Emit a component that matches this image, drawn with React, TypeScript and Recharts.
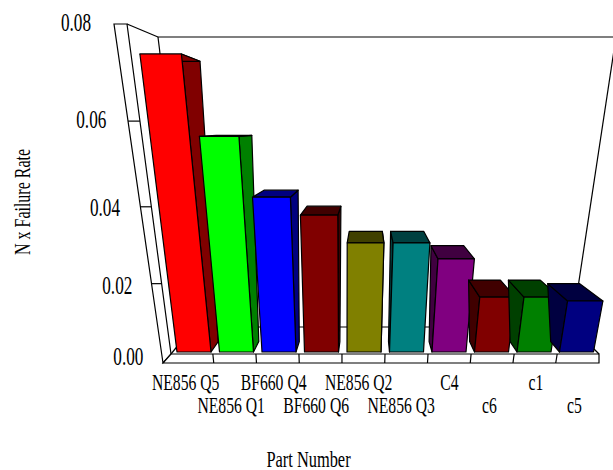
import React from 'react';
import { BarChart, Bar, XAxis, YAxis } from 'recharts';

const partNumbers = ['NE856 Q5', 'NE856 Q1', 'BF660 Q4', 'BF660 Q6', 'NE856 Q2', 'NE856 Q3', 'C4', 'c6', 'c1', 'c5'];
const failureRates = [0.074, 0.0564, 0.0421, 0.0377, 0.0306, 0.0306, 0.0264, 0.016, 0.016, 0.0149];
const frontColors = ['#ff0000', '#00ff00', '#0000ff', '#800000', '#808000', '#008080', '#800080', '#800000', '#008000', '#000080'];
const shadeColors = ['#800000', '#008000', '#000080', '#400000', '#404000', '#004040', '#400040', '#400000', '#004000', '#000040'];
const yTicks = [0, 0.02, 0.04, 0.06, 0.08];

const data = partNumbers.map((name, i) => ({ name, rate: failureRates[i] }));

const WIDTH = 613;
const HEIGHT = 470;
const PLOT_LEFT = 173;
const PLOT_RIGHT = 598;
const PLOT_TOP = 24;
const PLOT_BOTTOM = 352;
const AXIS_SIZE = 40;

// the picture is a perspective view: heights lean toward a point far below the page,
// depth runs toward a point in the middle of the back wall
const RISE_X = 345;
const RISE_Y = 1700;
const RISE_K = 0.1957;
const DEPTH_X = 368;
const DEPTH_Y = 127;

type Pt = [number, number];

// plot coordinates -> picture coordinates
const project = (px: number, py: number): Pt => {
  const h = (PLOT_BOTTOM - py) / (PLOT_BOTTOM - PLOT_TOP);
  const s = 1 / (1 - RISE_K * h);
  return [RISE_X + (px - RISE_X) * s, RISE_Y - (RISE_Y - PLOT_BOTTOM) * s];
};

const toBack = (p: Pt, f: number): Pt => [p[0] + (DEPTH_X - p[0]) * f, p[1] + (DEPTH_Y - p[1]) * f];

const pts = (list: Pt[]) => list.map((p) => `${p[0].toFixed(1)},${p[1].toFixed(1)}`).join(' ');

const Box = (props: any) => {
  const { x, y, width, height, index } = props;
  const bl = project(x, y + height);
  const br = project(x + width, y + height);
  const tl = project(x, y);
  const tr = project(x + width, y);
  const bbl = toBack(bl, 0.046);
  const bbr = toBack(br, 0.046);
  const btl = toBack(tl, 0.1);
  const btr = toBack(tr, 0.1);
  const rightSide = x + width / 2 < DEPTH_X;
  const side = rightSide ? [br, tr, btr, bbr] : [bl, tl, btl, bbl];
  return (
    <g stroke="#000" strokeWidth={1.2} strokeLinejoin="round">
      <polygon points={pts(side)} fill={shadeColors[index]} />
      <polygon points={pts([tl, tr, btr, btl])} fill={shadeColors[index]} />
      <polygon points={pts([bl, br, tr, tl])} fill={frontColors[index]} />
    </g>
  );
};

const stretched = (x: number, y: number, rotate = 0) =>
  `translate(${x},${y}) rotate(${rotate}) scale(1,1.42)`;

const textStyle = { fontFamily: '"Liberation Serif", serif', fontSize: 16, fill: '#000' };

// labels in the original sit a little off their bands
const labelNudge: Record<string, number> = { 'NE856 Q5': -3, C4: 1.5, c6: -1, c1: 3, c5: -1 };

const XTick = (props: any) => {
  const { x, payload, index } = props;
  const shift = -0.7 * String(payload.value).length + (labelNudge[payload.value] || 0);
  const baseline = index % 2 === 0 ? 390 : 413;
  return (
    <text {...textStyle} fontSize={15.7} textAnchor="middle" transform={stretched(x + shift, baseline)}>
      {payload.value}
    </text>
  );
};

const outerX = (y: number) => 114 + ((y - 24) * 49) / 339;

const YTick = (props: any) => {
  const { y, payload } = props;
  const sy = project(PLOT_LEFT, y)[1];
  const t = (sy - 24) / 328;
  return (
    <text {...textStyle} fontSize={17.2} textAnchor="end" transform={stretched(outerX(sy) - 23 + 5 * t, sy + 6.5 + 6 * t)}>
      {Number(payload.value).toFixed(2)}
    </text>
  );
};

const line = (a: Pt, b: Pt, key: string) => (
  <line key={key} x1={a[0]} y1={a[1]} x2={b[0]} y2={b[1]} stroke="#000" strokeWidth={1.2} />
);

// walls, floor and the titles, drawn under the bars
const Frame = () => {
  const pitch = 42.75;
  const xTicks = partNumbers.slice(1).map((_, i) => {
    const bx = 171 + pitch * (i + 1);
    return line([bx, 363], [bx + ((bx - RISE_X) / 1337) * 9, 354], `x${i}`);
  });
  const innerX = (y: number) => 127 + ((y - 24) * 44) / 330;
  const wallTicks = yTicks.slice(1, 4).map((v) => {
    const sy = project(PLOT_LEFT, PLOT_BOTTOM - (v / 0.08) * (PLOT_BOTTOM - PLOT_TOP))[1] + 1;
    return line([outerX(sy), sy], [innerX(sy), sy], `y${v}`);
  });
  return (
    <g>
      <polygon points={pts([[114, 24], [127, 24], [171, 354], [163, 363]])} fill="#fff" stroke="#000" strokeWidth={1.2} />
      <polygon points={pts([[163, 363], [599, 363], [599, 354], [171, 354]])} fill="#fff" stroke="#000" strokeWidth={1.2} />
      {line([127, 24], [158, 37], 'a')}
      {line([158, 37], [616, 37], 'b')}
      {line([158, 37], [193, 327], 'c')}
      {line([616, 37], [572, 327], 'd')}
      {line([193, 327], [572, 327], 'e')}
      {line([171, 354], [193, 327], 'f')}
      {line([599, 354], [572, 327], 'g')}
      {wallTicks}
      {xTicks}
      <text {...textStyle} fontSize={16.4} textAnchor="middle" transform={stretched(308.5, 467)}>Part Number</text>
      <text {...textStyle} textAnchor="middle" transform={stretched(30, 202, -90)}>N x Failure Rate</text>
    </g>
  );
};

export default function App() {
  return (
    <div style={{ position: 'absolute', left: 0, top: 0, width: WIDTH, height: HEIGHT }}>
      <BarChart
        width={WIDTH}
        height={HEIGHT}
        data={data}
        barSize={34}
        margin={{
          top: PLOT_TOP,
          right: WIDTH - PLOT_RIGHT,
          bottom: HEIGHT - PLOT_BOTTOM - AXIS_SIZE,
          left: PLOT_LEFT - AXIS_SIZE,
        }}
      >
        <Frame />
        <XAxis dataKey="name" height={AXIS_SIZE} interval={0} axisLine={false} tickLine={false} tick={<XTick />} />
        <YAxis width={AXIS_SIZE} domain={[0, 0.08]} ticks={yTicks} axisLine={false} tickLine={false} tick={<YTick />} />
        <Bar dataKey="rate" isAnimationActive={false} shape={<Box />} />
      </BarChart>
    </div>
  );
}
